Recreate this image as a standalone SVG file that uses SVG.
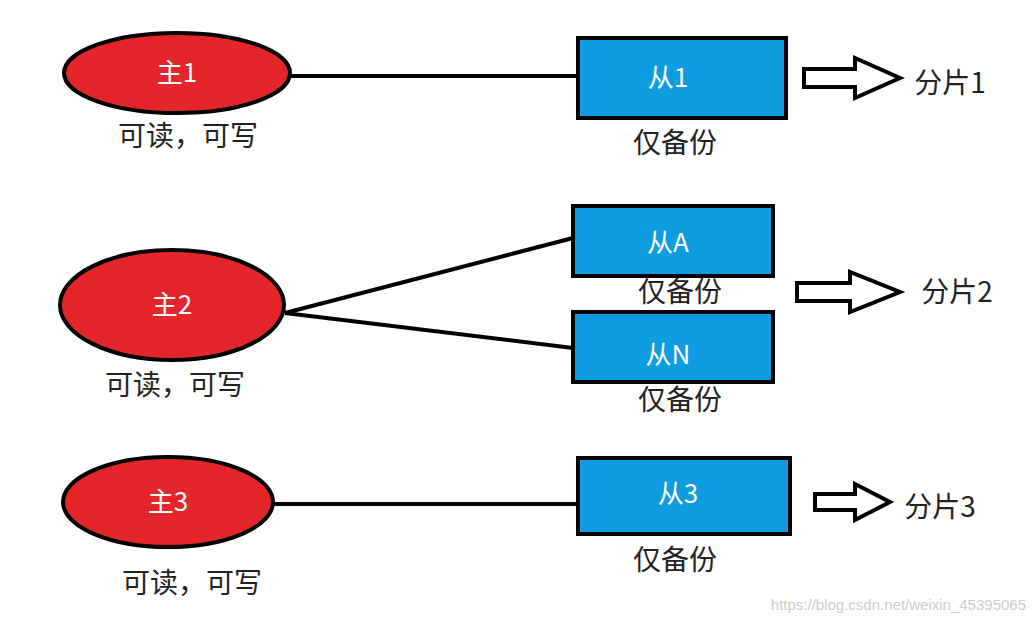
<svg xmlns="http://www.w3.org/2000/svg" width="1034" height="622" viewBox="0 0 1034 622">
<style>
.m{fill:#e4262b;stroke:#000;stroke-width:4}
.s{fill:#0e9ce0;stroke:#000;stroke-width:4}
.w{fill:#fff;font-family:"Noto Sans CJK SC","Liberation Sans",sans-serif;font-size:26px;text-anchor:middle}
.b{fill:#222;font-family:"Noto Sans CJK SC","Liberation Sans",sans-serif;font-size:28px;text-anchor:middle}
.c{stroke:#000;stroke-width:4;fill:none}
.a{fill:#fff;stroke:#000;stroke-width:4;stroke-linejoin:miter}
</style>
<rect width="1034" height="622" fill="#fff"/>
<g id="connectors">
<line class="c" x1="290" y1="76" x2="578" y2="76"/>
<line class="c" x1="285" y1="313" x2="573" y2="238"/>
<line class="c" x1="285" y1="313" x2="573" y2="348"/>
<line class="c" x1="273" y1="504" x2="585" y2="504"/>
</g>
<g id="m1"><ellipse class="m" cx="177" cy="73" rx="113" ry="40"/><text class="w" x="177" y="82">主1</text><text class="b" x="188" y="146">可读，可写</text></g>
<g id="m2"><ellipse class="m" cx="172" cy="305" rx="112" ry="55"/><text class="w" x="172" y="314">主2</text><text class="b" x="175" y="395">可读，可写</text></g>
<g id="m3"><ellipse class="m" cx="168" cy="502" rx="105" ry="45"/><text class="w" x="168" y="511">主3</text><text class="b" x="192" y="593">可读，可写</text></g>
<g id="s1"><rect class="s" x="578" y="38" width="208" height="80"/><text class="w" x="668" y="87">从1</text><text class="b" x="675" y="153">仅备份</text></g>
<g id="sA"><rect class="s" x="573" y="206" width="200" height="70"/><text class="w" x="668" y="252">从A</text><text class="b" x="680" y="302">仅备份</text></g>
<g id="sN"><rect class="s" x="573" y="312" width="200" height="70"/><text class="w" x="668" y="364">从N</text><text class="b" x="680" y="410">仅备份</text></g>
<g id="s3"><rect class="s" x="578" y="458" width="212" height="76"/><text class="w" x="678" y="503">从3</text><text class="b" x="675" y="570">仅备份</text></g>
<g id="f1"><polygon class="a" points="804,69 855,69 855,58 900,78 855,98 855,87 804,87"/><text class="b" x="950" y="93">分片1</text></g>
<g id="f2"><polygon class="a" points="797,283 850,283 850,272 900,292 850,312 850,301 797,301"/><text class="b" x="957" y="302">分片2</text></g>
<g id="f3"><polygon class="a" points="815,494 855,494 855,484 890,502 855,520 855,510 815,510"/><text class="b" x="940" y="517">分片3</text></g>
<text x="1026" y="610" font-family="Liberation Sans,sans-serif" font-size="15" fill="#ccc" text-anchor="end">https://blog.csdn.net/weixin_45395065</text>
</svg>
